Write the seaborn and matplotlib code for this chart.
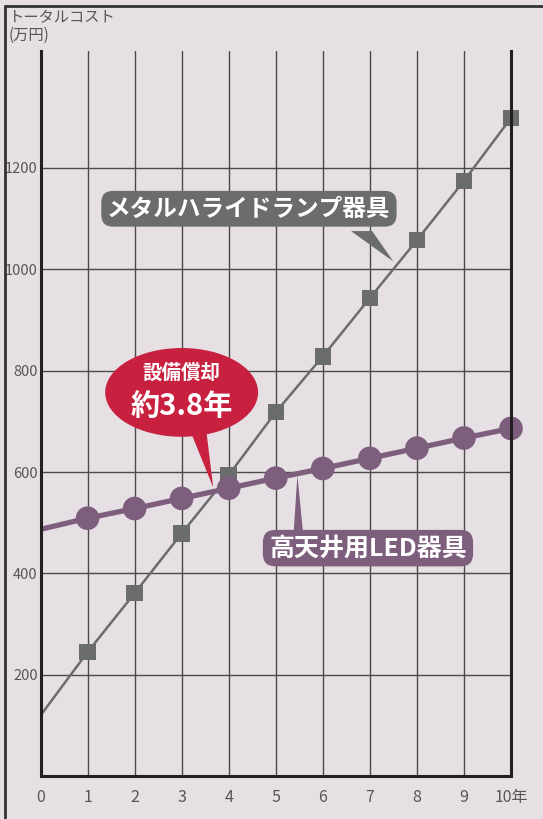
import matplotlib
matplotlib.use("Agg")
import matplotlib.pyplot as plt
import seaborn as sns
import pandas as pd
from matplotlib.patches import Ellipse, Polygon
from matplotlib.lines import Line2D

years = [0, 1, 2, 3, 4, 5, 6, 7, 8, 9, 10]
metal_halide = [120, 245, 361, 479, 594, 718, 828, 943, 1057, 1174, 1298]
led = [487, 509, 528, 548, 568, 588, 607, 627, 647, 667, 686]
x_tick_labels = ["0", "1", "2", "3", "4", "5", "6", "7", "8", "9", "10年"]
y_ticks = [200, 400, 600, 800, 1000, 1200]
y_label = "トータルコスト\n(万円)"
metal_label = "メタルハライドランプ器具"
led_label = "高天井用LED器具"
payback_line1 = "設備償却"
payback_line2 = "約3.8年"

BG = "#e6e0e5"
GRAY = "#6b6c6e"
PURPLE = "#7e5e7d"
RED = "#c8213f"
TXT = "#555555"

sns.set_theme(style="white")
plt.rcParams["font.family"] = ["Noto Sans CJK JP", "DejaVu Sans"]

df = pd.DataFrame({"year": years, "metal": metal_halide, "led": led})
dfm = df[df["year"] >= 1]

fig = plt.figure(figsize=(5.43, 8.19), dpi=100, facecolor=BG)
W, H = 543, 819
ax = fig.add_axes([40.5 / W, 1 - 776.4 / H, (511 - 40.5) / W, (776.4 - 51) / H])
ax.set_facecolor(BG)
ax.set_xlim(0, 10)
ax.set_ylim(0, 1430)

# grid
for xv in years[1:-1]:
    ax.axvline(xv, color="#4a4a4a", lw=1.0, zorder=1)
for yv in y_ticks:
    ax.axhline(yv, color="#4a4a4a", lw=1.0, zorder=1)

sns.lineplot(data=df, x="year", y="metal", ax=ax, color=GRAY, lw=1.8, zorder=3)
sns.scatterplot(data=dfm, x="year", y="metal", ax=ax, color=GRAY, marker="s",
                s=140, edgecolor="none", zorder=4, clip_on=False)
sns.lineplot(data=df, x="year", y="led", ax=ax, color=PURPLE, lw=3.8, zorder=5)
sns.scatterplot(data=dfm, x="year", y="led", ax=ax, color=PURPLE, marker="o",
                s=290, edgecolor="none", zorder=6, clip_on=False)

ax.spines["top"].set_visible(False)
for side in ["left", "bottom", "right"]:
    ax.spines[side].set_color("#231f20")
    ax.spines[side].set_linewidth(2.2)
    ax.spines[side].set_zorder(7)

ax.set_xticks(years)
ax.set_xticklabels(x_tick_labels, fontsize=11.5, color=TXT)
ax.set_yticks(y_ticks)
ax.set_yticklabels([str(v) for v in y_ticks], fontsize=10.5, color=TXT)
ax.tick_params(axis="x", length=0, pad=9)
ax.tick_params(axis="y", length=0, pad=2)
ax.set_xlabel("")
ax.set_ylabel("")

fig.text(9 / W, 1 - 9 / H, y_label, fontsize=11, color=TXT, va="top", ha="left",
         linespacing=1.05)

# metal halide callout
ax.add_patch(Polygon([[6.6, 1075], [7.05, 1075], [7.5, 1015]], closed=True,
                     fc=GRAY, ec="none", zorder=8))
ax.text(4.43, 1119, metal_label, fontsize=17, fontweight="bold", color="white",
        ha="center", va="center", zorder=9,
        bbox=dict(boxstyle="round,pad=0.25,rounding_size=0.5", fc=GRAY, ec="none"))

# LED callout
ax.add_patch(Polygon([[5.38, 480], [5.58, 480], [5.46, 594]], closed=True,
                     fc=PURPLE, ec="none", zorder=8))
ax.text(6.96, 450, led_label, fontsize=18, fontweight="bold", color="white",
        ha="center", va="center", zorder=9,
        bbox=dict(boxstyle="round,pad=0.25,rounding_size=0.5", fc=PURPLE, ec="none"))

# payback bubble
ax.add_patch(Polygon([[3.1, 700], [3.5, 700], [3.67, 570]], closed=True,
                     fc=RED, ec="none", zorder=8))
ax.add_patch(Ellipse((3.0, 757), 3.25, 175, fc=RED, ec="none", zorder=8))
ax.text(3.0, 795, payback_line1, fontsize=14, fontweight="bold", color="white",
        ha="center", va="center", zorder=9)
ax.text(3.0, 730, payback_line2, fontsize=21, fontweight="bold", color="white",
        ha="center", va="center", zorder=9)

# figure border (top and left)
fig.add_artist(Line2D([5 / W, 1], [1 - 6 / H, 1 - 6 / H], color="#333333", lw=2,
                      transform=fig.transFigure))
fig.add_artist(Line2D([5 / W, 5 / W], [0, 1 - 6 / H], color="#333333", lw=2,
                      transform=fig.transFigure))

fig.savefig("out.png", dpi=100, facecolor=BG)
